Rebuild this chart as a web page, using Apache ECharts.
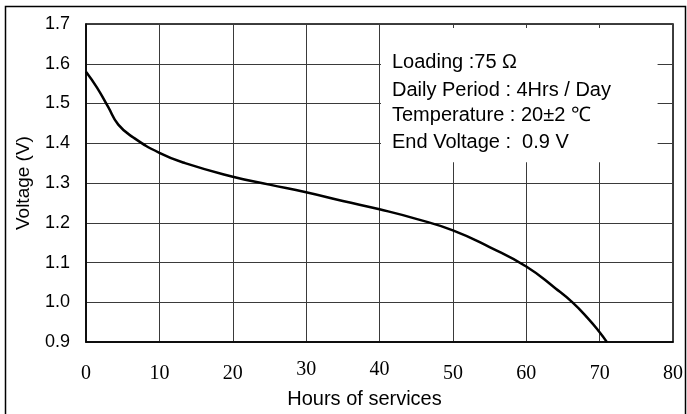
<!DOCTYPE html>
<html>
<head>
<meta charset="utf-8">
<script src="https://cdn.jsdelivr.net/npm/echarts@6/dist/echarts.min.js"></script>
<style>
  html, body { margin: 0; padding: 0; background: #fff; }
  #main { width: 687px; height: 414px; }
</style>
</head>
<body>
<div id="main"></div>
<script>
// discharge curve
var hours = [0, 1.5, 3, 4.4, 6.5, 10, 13.5, 20, 25, 30, 35, 40, 45, 50, 55, 60, 64, 66.3, 68.5, 70, 71];
var volts = [1.58, 1.54, 1.492, 1.447, 1.414, 1.376, 1.35, 1.316, 1.296, 1.277, 1.255, 1.234, 1.21, 1.181, 1.139, 1.09, 1.035, 1.0, 0.958, 0.925, 0.9];

var notes = [
  'Loading :75 \u03A9',
  'Daily Period : 4Hrs / Day',
  'Temperature : 20\u00B12 \u2103',
  'End Voltage :  0.9 V'
];

var curve = hours.map(function(h, i) { return [h, volts[i]]; });

var myChart = echarts.init(document.getElementById('main'));

var sans = '"Liberation Sans", Arial, sans-serif';
var serif = '"Liberation Serif", "Times New Roman", serif';
var gridColor = '#3a3a3a';

var noteTops = [52, 80, 105, 132];
var graphics = [{
  type: 'rect',
  shape: { x: 5.5, y: 6.5, width: 680, height: 420 },
  style: { fill: 'none', stroke: '#000', lineWidth: 1.5 },
  silent: true
}];
notes.forEach(function(t, i) {
  graphics.push({
    type: 'text',
    left: 392,
    top: noteTops[i],
    z: 10,
    style: { text: t, font: '20px ' + sans, fill: '#000' }
  });
});

var option = {
  animation: false,
  grid: {
    left: 86, right: 14, top: 24, bottom: 67,
    show: true, borderColor: '#000', borderWidth: 1.5
  },
  xAxis: {
    type: 'value',
    min: 0, max: 80, interval: 10,
    name: 'Hours of services',
    nameLocation: 'middle',
    nameGap: 40,
    nameTextStyle: { fontFamily: sans, fontSize: 20, color: '#000', padding: [0, 30, 0, 0] },
    axisLine: { show: true, onZero: false, lineStyle: { color: '#000', width: 1.5 } },
    axisTick: { show: false },
    axisLabel: {
      fontFamily: serif, fontSize: 20, color: '#000', margin: 17,
      // 30 and 40 sit a little higher in the original
      formatter: function(v) { return (v === 30 || v === 40) ? '{up|' + v + '}' : '{n|' + v + '}'; },
      rich: {
        n: { fontFamily: serif, fontSize: 20, color: '#000', padding: [5, 0, 0, 0] },
        up: { fontFamily: serif, fontSize: 20, color: '#000', padding: [1, 0, 0, 0] }
      }
    },
    splitLine: { show: true, lineStyle: { color: gridColor, width: 1 } }
  },
  yAxis: {
    type: 'value',
    min: 0.9, max: 1.7, interval: 0.1,
    name: 'Voltage (V)',
    nameLocation: 'middle',
    nameGap: 53,
    nameTextStyle: { fontFamily: sans, fontSize: 19, color: '#000' },
    axisLine: { show: true, onZero: false, lineStyle: { color: '#000', width: 1.5 } },
    axisTick: { show: false },
    axisLabel: {
      fontFamily: sans, fontSize: 18, color: '#000', margin: 16,
      formatter: function(v) { return v.toFixed(1); }
    },
    splitLine: { show: true, lineStyle: { color: gridColor, width: 1 } }
  },
  series: [{
    type: 'line',
    data: curve,
    smooth: 0.5,
    symbol: 'none',
    lineStyle: { color: '#000', width: 2.5 },
    markArea: {
      silent: true,
      itemStyle: { color: '#fff', opacity: 1 },
      label: { show: false },
      data: [[{ coord: [40.2, 1.69] }, { coord: [77.9, 1.352] }]]
    }
  }],
  graphic: graphics
};

myChart.setOption(option);
</script>
</body>
</html>
